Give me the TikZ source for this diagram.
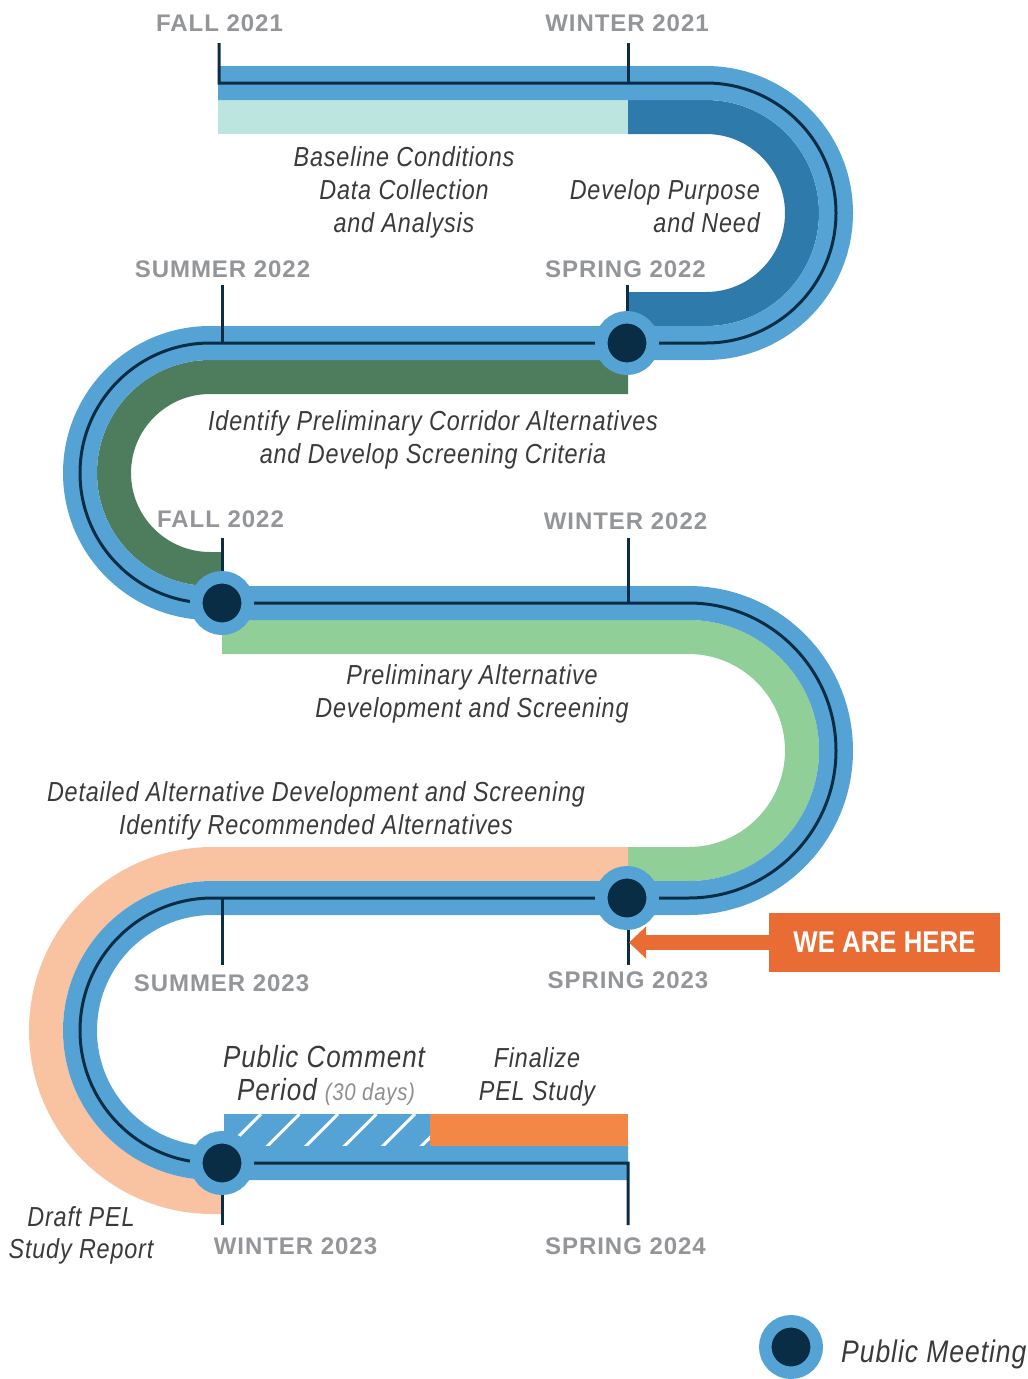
\documentclass[tikz,border=0pt]{standalone}
\usepackage{fontspec}
\usetikzlibrary{arrows.meta}
\newfontfamily\lblfont{Liberation Sans}[LetterSpace=4]
\newfontfamily\descfont{Liberation Sans}[FakeStretch=0.85, LetterSpace=3]
\newfontfamily\herefont{Liberation Sans}[FakeStretch=0.86]
\definecolor{trk}{HTML}{55A3D5}
\definecolor{dk}{HTML}{0A2D46}
\definecolor{cTeal}{HTML}{BDE5E0}
\definecolor{cDBlue}{HTML}{2D7AAB}
\definecolor{cDGreen}{HTML}{4E7D5E}
\definecolor{cLGreen}{HTML}{90CF98}
\definecolor{cPeach}{HTML}{F9C3A2}
\definecolor{cOrange}{HTML}{F38745}
\definecolor{cHere}{HTML}{EA6C35}
\definecolor{cGray}{HTML}{939598}
\definecolor{cText}{HTML}{3A3A3A}
\definecolor{cSub}{HTML}{8E8E8E}
\tikzset{
  band/.style={line width=34pt},
  darkline/.style={line width=3pt, draw=dk},
  meeting/.style={circle, fill=dk, draw=trk, line width=12.5pt, minimum size=51.5pt, inner sep=0pt},
  lbl/.style={font=\lblfont\bfseries\fontsize{24}{28}\selectfont, text=cGray, inner sep=0pt, anchor=base},
  desc/.style={font=\descfont\itshape\fontsize{27.5}{33}\selectfont, text=cText, inner sep=0pt, anchor=base},
  descbig/.style={font=\descfont\itshape\fontsize{30.6}{34}\selectfont, text=cText, inner sep=0pt, anchor=base},
}
\begin{document}
\begin{tikzpicture}[x=1pt,y=1pt]
\useasboundingbox (0,-1379) rectangle (1028,0);
% ---- coloured phase bands ----
\draw[band, cTeal] (218,-117) -- (628,-117);
\draw[band, cDBlue] (628,-117) -- (706,-117) arc[start angle=90, end angle=-90, radius=96pt] -- (628,-309);
\draw[band, cDGreen] (628,-377) -- (210,-377) arc[start angle=90, end angle=270, radius=96pt] -- (222,-569);
\draw[band, cLGreen] (222,-637) -- (688.5,-637) arc[start angle=90, end angle=-90, radius=113.5pt] -- (628,-864);
\draw[band, cPeach] (628,-864) -- (212.5,-864) arc[start angle=90, end angle=270, radius=166.5pt] -- (222,-1197);
% hatched public comment band
\fill[trk] (224,-1114) rectangle (430,-1148);
\begin{scope}
  \clip (224,-1114) rectangle (430,-1148);
  \foreach \x in {261,299.5,338,376.5,415,453.5}
    \draw[white, line width=3pt] (\x,-1114) -- ++(-34,-34);
\end{scope}
\fill[cOrange] (430,-1114) rectangle (628,-1148);
% ---- track ----
\draw[line width=34pt, trk] (218,-83) -- (706,-83) arc[start angle=90, end angle=-90, radius=130pt]
  -- (210,-343) arc[start angle=90, end angle=270, radius=130pt]
  -- (688.5,-603) arc[start angle=90, end angle=-90, radius=147.5pt]
  -- (212.5,-898) arc[start angle=90, end angle=270, radius=132.5pt]
  -- (628,-1163);
\draw[darkline] (219,-43) -- (219,-83) -- (706,-83) arc[start angle=90, end angle=-90, radius=130pt]
  -- (210,-343) arc[start angle=90, end angle=270, radius=130pt]
  -- (688.5,-603) arc[start angle=90, end angle=-90, radius=147.5pt]
  -- (212.5,-898) arc[start angle=90, end angle=270, radius=132.5pt]
  -- (628,-1163) -- (628,-1225);
% ---- ticks ----
\coordinate (tW21a) at (628,-43);  \coordinate (tW21b) at (628,-83);
\coordinate (tSp22a) at (627,-285); \coordinate (tSp22b) at (627,-343);
\coordinate (tSu22a) at (222,-285); \coordinate (tSu22b) at (222,-343);
\coordinate (tF22a) at (222,-538); \coordinate (tF22b) at (222,-603);
\coordinate (tW22a) at (628,-538); \coordinate (tW22b) at (628,-603);
\coordinate (tSp23a) at (628,-898); \coordinate (tSp23b) at (628,-965);
\coordinate (tSu23a) at (222,-898); \coordinate (tSu23b) at (222,-965);
\coordinate (tW23a) at (222,-1163); \coordinate (tW23b) at (222,-1225);
\foreach \t in {W21,Sp22,Su22,F22,W22,Sp23,Su23,W23}
  \draw[darkline] (t\t a) -- (t\t b);
% ---- public meetings ----
\node[meeting] (m1) at (627,-343) {};
\node[meeting] (m2) at (222,-603) {};
\node[meeting] (m3) at (627,-898) {};
\node[meeting] (m4) at (222,-1163) {};
% ---- season labels ----
\node[lbl] (lF21) at (219.5,-31) {FALL 2021};
\node[lbl] (lW21) at (627,-31) {WINTER 2021};
\node[lbl] (lSu22) at (222.5,-277) {SUMMER 2022};
\node[lbl] (lSp22) at (625.5,-277) {SPRING 2022};
\node[lbl] (lF22) at (220.5,-527) {FALL 2022};
\node[lbl] (lW22) at (625.5,-529) {WINTER 2022};
\node[lbl] (lSu23) at (221.5,-991) {SUMMER 2023};
\node[lbl] (lSp23) at (628,-988) {SPRING 2023};
\node[lbl] (lW23) at (295.5,-1254) {WINTER 2023};
\node[lbl] (lSp24) at (625.5,-1254) {SPRING 2024};
% ---- phase descriptions ----
\node[desc] (d1a) at (404,-166.5) {Baseline Conditions};
\node[desc] (d1b) at (404,-199.5) {Data Collection};
\node[desc] (d1c) at (404,-232) {and Analysis};
\node[desc, anchor=base east] (d2a) at (760,-199.5) {Develop Purpose};
\node[desc, anchor=base east] (d2b) at (760,-232) {and Need};
\node[desc] (d3a) at (433,-430.5) {Identify Preliminary Corridor Alternatives};
\node[desc] (d3b) at (433,-463.5) {and Develop Screening Criteria};
\node[desc] (d4a) at (472,-684.5) {Preliminary Alternative};
\node[desc] (d4b) at (472,-717.5) {Development and Screening};
\node[desc] (d5a) at (316,-801.5) {Detailed Alternative Development and Screening};
\node[desc] (d5b) at (316,-834.5) {Identify Recommended Alternatives};
\node[descbig] (d6a) at (324,-1067) {Public Comment};
\node[descbig] (d6b) at (326,-1100) {Period {\fontsize{24}{28}\selectfont\color{cSub}(30 days)}};
\node[desc] (d7a) at (537,-1067) {Finalize};
\node[desc] (d7b) at (537,-1100) {PEL Study};
\node[desc] (d8a) at (81,-1226) {Draft PEL};
\node[desc] (d8b) at (81,-1258) {Study Report};
% ---- we are here ----
\node[fill=cHere, minimum width=231pt, minimum height=59pt, inner sep=0pt,
      text=white, font=\herefont\bfseries\fontsize{30}{34}\selectfont] (here) at (884.5,-942.5) {WE ARE HERE};
\coordinate (hereTip) at (629,-942.5);
\draw[cHere, line width=15pt, -{Triangle[length=17pt, width=31pt]}] (here.west) -- (hereTip);
% ---- legend ----
\node[meeting] (leg) at (791,-1347) {};
\node[descbig, anchor=base west, font=\descfont\itshape\fontsize{31.2}{34}\selectfont] (legt) at (841,-1362) {Public Meeting};
\end{tikzpicture}
\end{document}
